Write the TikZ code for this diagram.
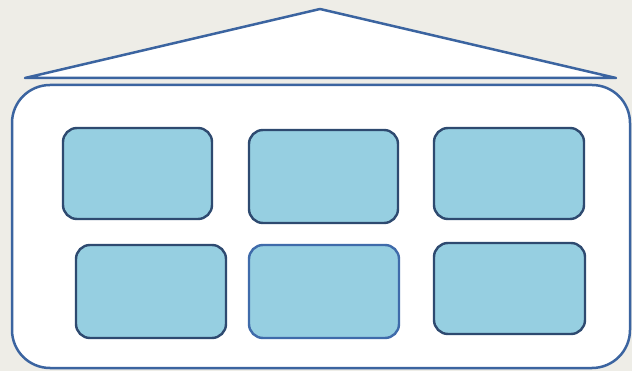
\documentclass[tikz,border=0pt]{standalone}
\begin{document}
\begin{tikzpicture}[x=1pt,y=-1pt,
  houseline/.style={draw=housecol, line width=2.5pt},
  room/.style={draw=roomedge, fill=roomfill, line width=2.4pt, rounded corners=14pt, rectangle, inner sep=0pt},
]
\definecolor{bgcol}{HTML}{EEEDE7}
\definecolor{housecol}{HTML}{3B64A0}
\definecolor{roomfill}{HTML}{96CFE1}
\definecolor{roomedge}{HTML}{2E4A70}
\definecolor{roomedgeb}{HTML}{3F6BAA}
\fill[bgcol] (0,0) rectangle (632,371);
\useasboundingbox (0,0) rectangle (632,371);
% roof
\draw[houseline, fill=white, line join=round] (25,78) -- (320,9) -- (616,78) -- cycle;
% house body
\draw[houseline, fill=white, rounded corners=38pt] (12,85) rectangle (630,368);
% rooms
\node[room, minimum width=149pt, minimum height=91pt] (r1) at (137.5,173.5) {};
\node[room, minimum width=149pt, minimum height=93pt] (r2) at (323.5,176.5) {};
\node[room, minimum width=150pt, minimum height=91pt] (r3) at (509,173.5) {};
\node[room, minimum width=150pt, minimum height=93pt] (r4) at (151,291.5) {};
\node[room, draw=roomedgeb, minimum width=150pt, minimum height=93pt] (r5) at (324,291.5) {};
\node[room, minimum width=151pt, minimum height=91pt] (r6) at (509.5,288.5) {};
\end{tikzpicture}
\end{document}
